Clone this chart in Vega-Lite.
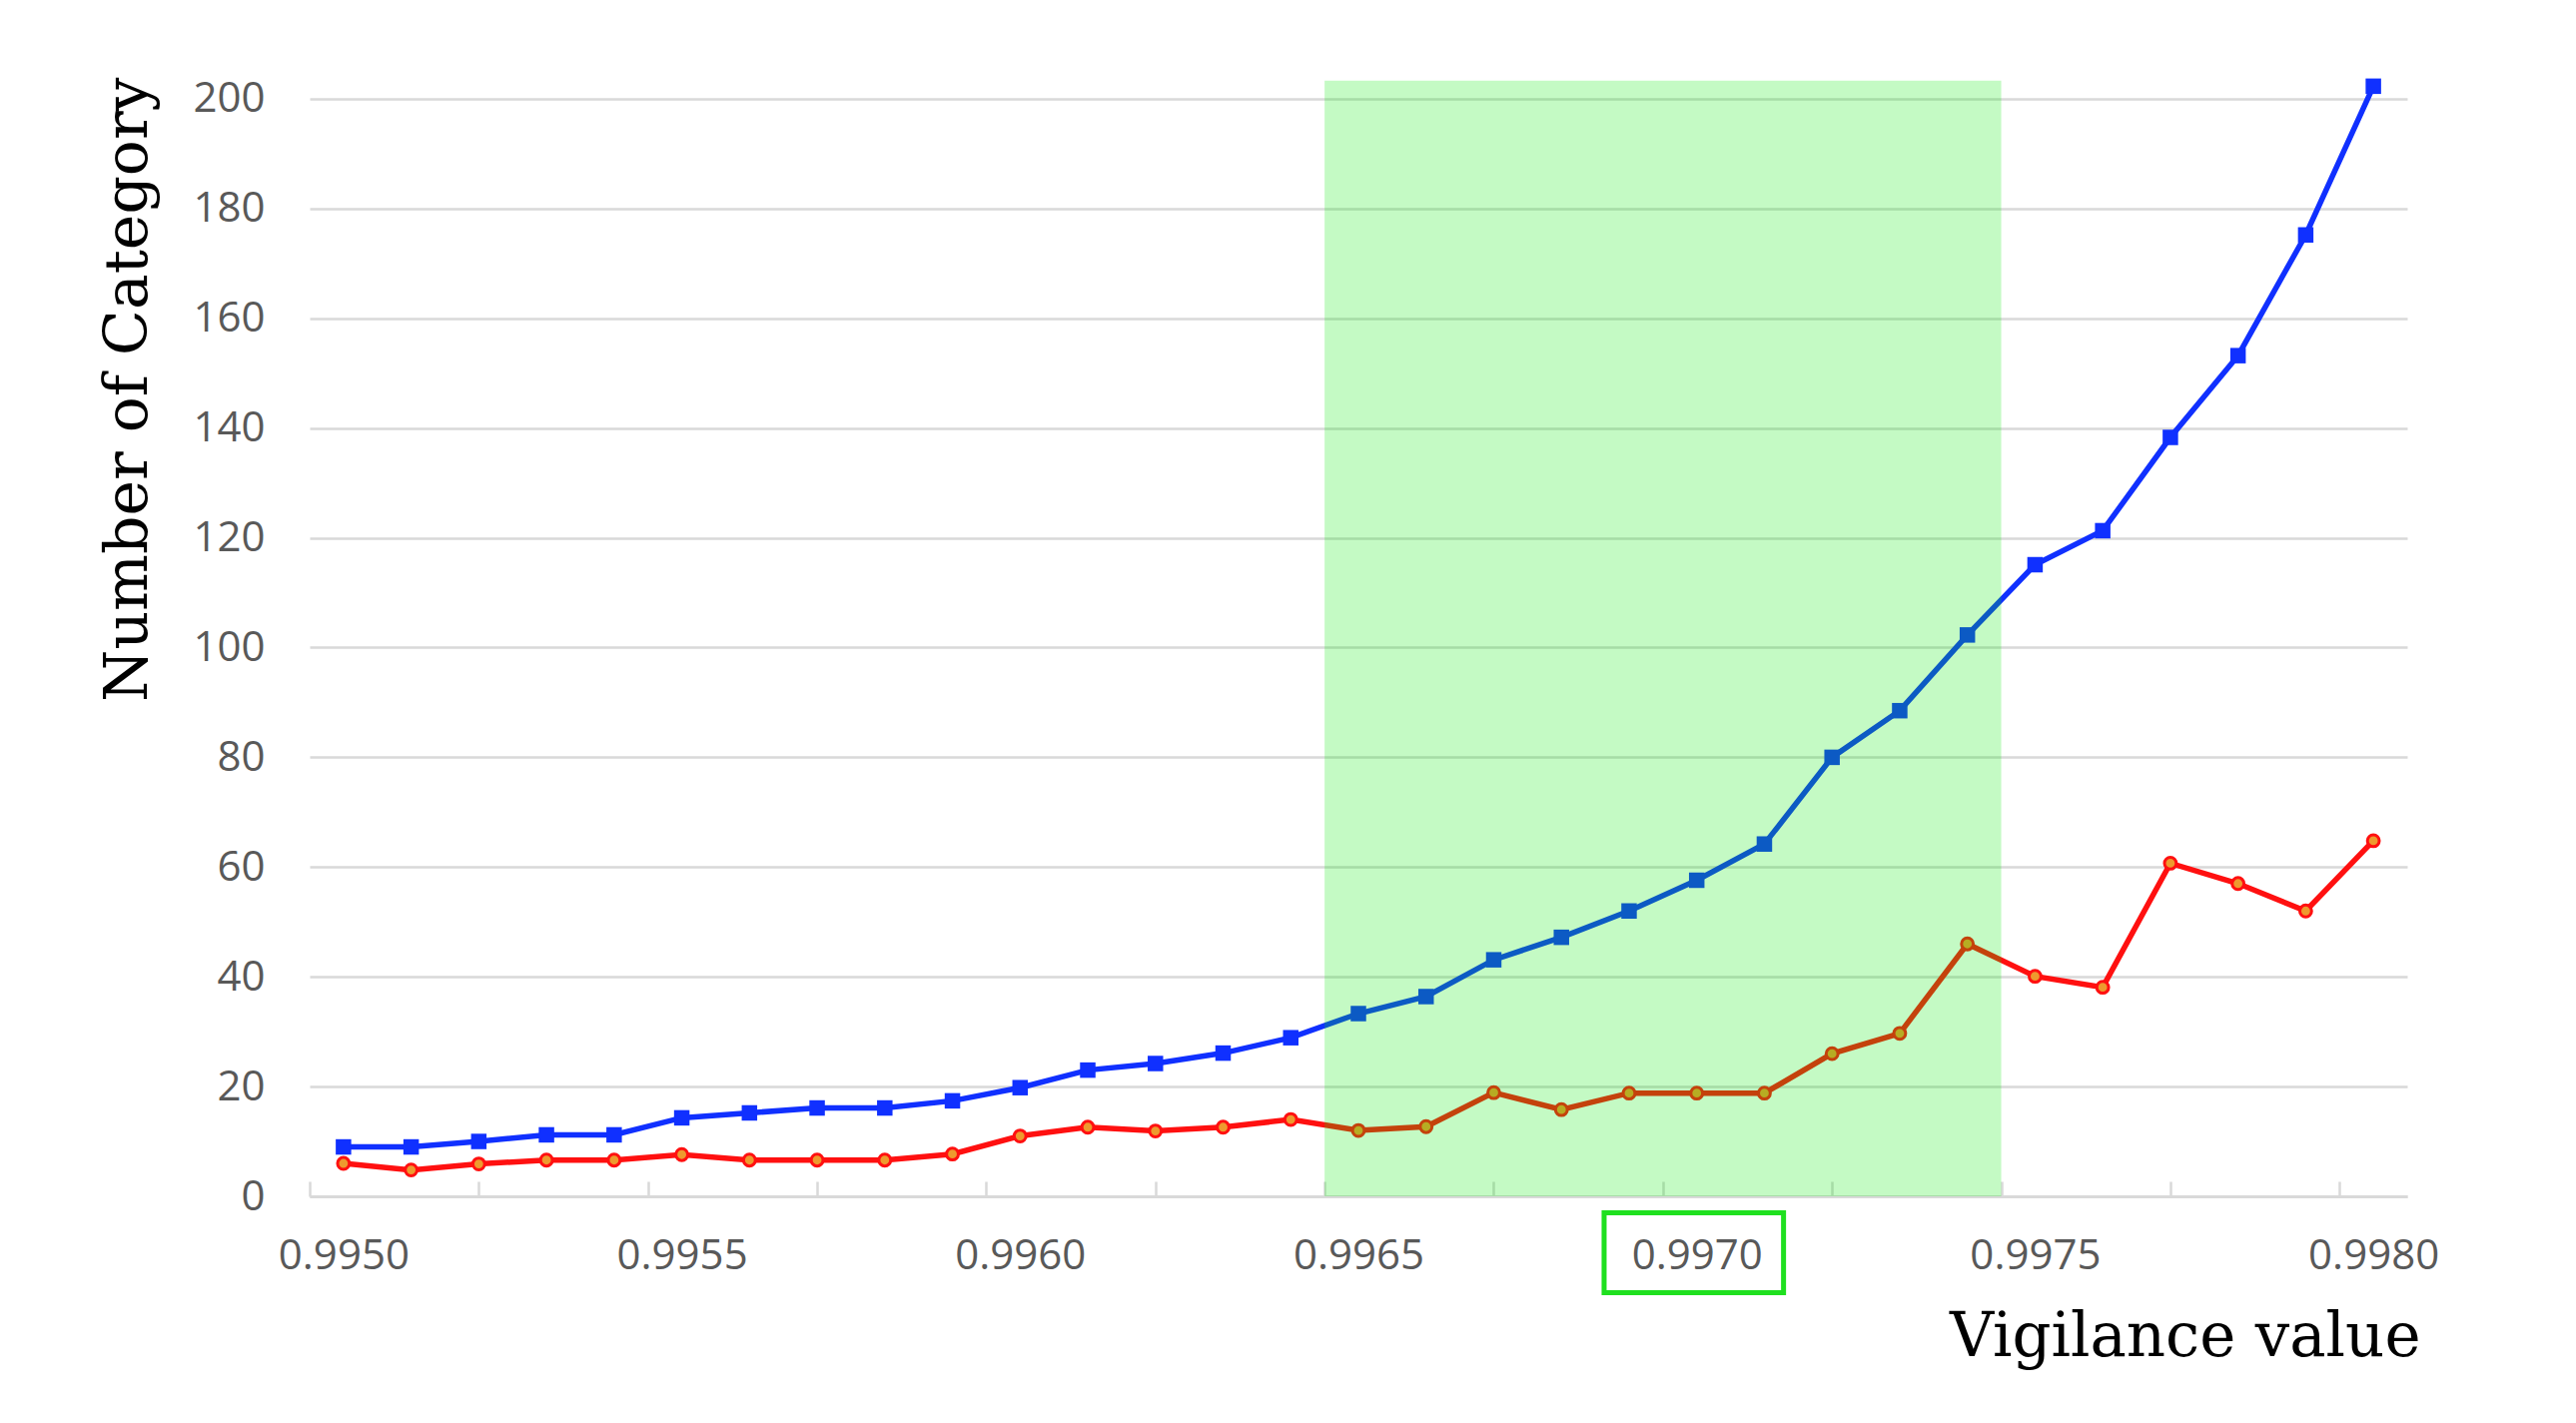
{
  "$schema": "https://vega.github.io/schema/vega-lite/v6.json",
  "width": 2100,
  "height": 1121,
  "autosize": {"type": "none"},
  "padding": {"left": 310, "top": 77, "right": 169, "bottom": 227},
  "background": "white",
  "config": {"view": {"stroke": null}},
  "data": {"values": [
    {"vigilance": 0.9950, "series": "Series 1", "categories": 9},
    {"vigilance": 0.9951, "series": "Series 1", "categories": 9},
    {"vigilance": 0.9952, "series": "Series 1", "categories": 10},
    {"vigilance": 0.9953, "series": "Series 1", "categories": 11.2},
    {"vigilance": 0.9954, "series": "Series 1", "categories": 11.2},
    {"vigilance": 0.9955, "series": "Series 1", "categories": 14.3},
    {"vigilance": 0.9956, "series": "Series 1", "categories": 15.2},
    {"vigilance": 0.9957, "series": "Series 1", "categories": 16.1},
    {"vigilance": 0.9958, "series": "Series 1", "categories": 16.1},
    {"vigilance": 0.9959, "series": "Series 1", "categories": 17.4},
    {"vigilance": 0.9960, "series": "Series 1", "categories": 19.8},
    {"vigilance": 0.9961, "series": "Series 1", "categories": 23},
    {"vigilance": 0.9962, "series": "Series 1", "categories": 24.2},
    {"vigilance": 0.9963, "series": "Series 1", "categories": 26.1},
    {"vigilance": 0.9964, "series": "Series 1", "categories": 28.9},
    {"vigilance": 0.9965, "series": "Series 1", "categories": 33.3},
    {"vigilance": 0.9966, "series": "Series 1", "categories": 36.4},
    {"vigilance": 0.9967, "series": "Series 1", "categories": 43.1},
    {"vigilance": 0.9968, "series": "Series 1", "categories": 47.2},
    {"vigilance": 0.9969, "series": "Series 1", "categories": 52},
    {"vigilance": 0.9970, "series": "Series 1", "categories": 57.6},
    {"vigilance": 0.9971, "series": "Series 1", "categories": 64.2},
    {"vigilance": 0.9972, "series": "Series 1", "categories": 80},
    {"vigilance": 0.9973, "series": "Series 1", "categories": 88.5},
    {"vigilance": 0.9974, "series": "Series 1", "categories": 102.3},
    {"vigilance": 0.9975, "series": "Series 1", "categories": 115.1},
    {"vigilance": 0.9976, "series": "Series 1", "categories": 121.3},
    {"vigilance": 0.9977, "series": "Series 1", "categories": 138.3},
    {"vigilance": 0.9978, "series": "Series 1", "categories": 153.2},
    {"vigilance": 0.9979, "series": "Series 1", "categories": 175.2},
    {"vigilance": 0.9980, "series": "Series 1", "categories": 202.3},
    {"vigilance": 0.9950, "series": "Series 2", "categories": 6},
    {"vigilance": 0.9951, "series": "Series 2", "categories": 4.8},
    {"vigilance": 0.9952, "series": "Series 2", "categories": 5.9},
    {"vigilance": 0.9953, "series": "Series 2", "categories": 6.6},
    {"vigilance": 0.9954, "series": "Series 2", "categories": 6.6},
    {"vigilance": 0.9955, "series": "Series 2", "categories": 7.6},
    {"vigilance": 0.9956, "series": "Series 2", "categories": 6.6},
    {"vigilance": 0.9957, "series": "Series 2", "categories": 6.6},
    {"vigilance": 0.9958, "series": "Series 2", "categories": 6.6},
    {"vigilance": 0.9959, "series": "Series 2", "categories": 7.7},
    {"vigilance": 0.9960, "series": "Series 2", "categories": 11},
    {"vigilance": 0.9961, "series": "Series 2", "categories": 12.6},
    {"vigilance": 0.9962, "series": "Series 2", "categories": 11.9},
    {"vigilance": 0.9963, "series": "Series 2", "categories": 12.6},
    {"vigilance": 0.9964, "series": "Series 2", "categories": 14},
    {"vigilance": 0.9965, "series": "Series 2", "categories": 12},
    {"vigilance": 0.9966, "series": "Series 2", "categories": 12.7},
    {"vigilance": 0.9967, "series": "Series 2", "categories": 18.9},
    {"vigilance": 0.9968, "series": "Series 2", "categories": 15.8},
    {"vigilance": 0.9969, "series": "Series 2", "categories": 18.8},
    {"vigilance": 0.9970, "series": "Series 2", "categories": 18.8},
    {"vigilance": 0.9971, "series": "Series 2", "categories": 18.8},
    {"vigilance": 0.9972, "series": "Series 2", "categories": 26},
    {"vigilance": 0.9973, "series": "Series 2", "categories": 29.7},
    {"vigilance": 0.9974, "series": "Series 2", "categories": 46},
    {"vigilance": 0.9975, "series": "Series 2", "categories": 40.1},
    {"vigilance": 0.9976, "series": "Series 2", "categories": 38.1},
    {"vigilance": 0.9977, "series": "Series 2", "categories": 60.7},
    {"vigilance": 0.9978, "series": "Series 2", "categories": 57},
    {"vigilance": 0.9979, "series": "Series 2", "categories": 52},
    {"vigilance": 0.9980, "series": "Series 2", "categories": 64.8}
  ]},
  "layer": [
    {
      "mark": {"type": "line", "strokeWidth": 5.5},
      "encoding": {
        "x": {
          "field": "vigilance", "type": "quantitative",
          "scale": {"domain": [0.99495, 0.99805], "nice": false, "zero": false},
          "axis": {
            "orient": "bottom",
            "values": [0.995, 0.9955, 0.996, 0.9965, 0.997, 0.9975, 0.998],
            "format": ".4f", "ticks": false, "grid": false,
            "domain": true, "domainColor": "#d9d9d9", "domainWidth": 3,
            "labelFont": "Open Sans", "labelFontSize": 42, "labelColor": "#595959",
            "labelPadding": 39, "labelFlush": false, "labelOverlap": false,
            "title": "Vigilance value", "titleFont": "DejaVu Serif", "titleFontSize": 61,
            "titleFontWeight": "normal", "titleColor": "#000000", "titleAnchor": "end",
            "titleX": 2113, "titleAlign": "right",
            "titlePadding": 31
          }
        },
        "y": {
          "field": "categories", "type": "quantitative",
          "scale": {"domain": [0, 204], "nice": false},
          "axis": {
            "values": [0, 20, 40, 60, 80, 100, 120, 140, 160, 180, 200],
            "ticks": false, "domain": false, "grid": true,
            "gridColor": "#d9d9d9", "gridWidth": 2.5,
            "labelFont": "Open Sans", "labelFontSize": 42, "labelColor": "#595959",
            "labelPadding": 45,
            "title": "Number of Category", "titleFont": "DejaVu Serif", "titleFontSize": 60,
            "titleFontWeight": "normal", "titleColor": "#000000", "titleAnchor": "end",
            "titlePadding": 33
          }
        },
        "color": {
          "field": "series", "type": "nominal",
          "scale": {"domain": ["Series 1", "Series 2"], "range": ["#1030ff", "#ff1010"]},
          "legend": null
        }
      }
    },
    {
      "transform": [{"filter": "datum.series === 'Series 1'"}],
      "mark": {"type": "square", "filled": true, "color": "#1030ff", "size": 240, "opacity": 1},
      "encoding": {
        "x": {"field": "vigilance", "type": "quantitative", "axis": null},
        "y": {"field": "categories", "type": "quantitative"}
      }
    },
    {
      "transform": [{"filter": "datum.series === 'Series 2'"}],
      "mark": {"type": "point", "shape": "circle", "filled": true, "fill": "#ee9a2e", "stroke": "#ff1010", "strokeWidth": 3, "size": 140, "opacity": 1},
      "encoding": {
        "x": {"field": "vigilance", "type": "quantitative", "axis": null},
        "y": {"field": "categories", "type": "quantitative"}
      }
    },
    {
      "data": {"values": [{"start": 0.99645, "end": 0.99745}]},
      "mark": {"type": "rect", "fill": "#00e900", "fillOpacity": 0.23},
      "encoding": {
        "x": {
          "field": "start", "type": "quantitative",
          "axis": {
            "orient": "bottom",
            "values": [0.99495, 0.9952, 0.99545, 0.9957, 0.99595, 0.9962, 0.99645, 0.9967, 0.99695, 0.9972, 0.99745, 0.9977, 0.99795],
            "labels": false, "domain": false, "grid": false, "ticks": true,
            "tickSize": 15, "tickColor": "#d9d9d9", "tickWidth": 2.5, "offset": -15,
            "title": null
          }
        },
        "x2": {"field": "end"},
        "y": {"datum": 0, "type": "quantitative"},
        "y2": {"datum": 203.3}
      }
    },
    {
      "data": {"values": [{}]},
      "mark": {"type": "rect", "fillOpacity": 0, "fill": "white", "stroke": "#1fe01f", "strokeWidth": 5},
      "encoding": {
        "x": {"datum": 0.9968631, "type": "quantitative", "axis": null},
        "x2": {"datum": 0.9971283},
        "y": {"datum": -3.0, "type": "quantitative"},
        "y2": {"datum": -17.56}
      }
    }
  ],
  "resolve": {"axis": {"x": "independent"}}
}
